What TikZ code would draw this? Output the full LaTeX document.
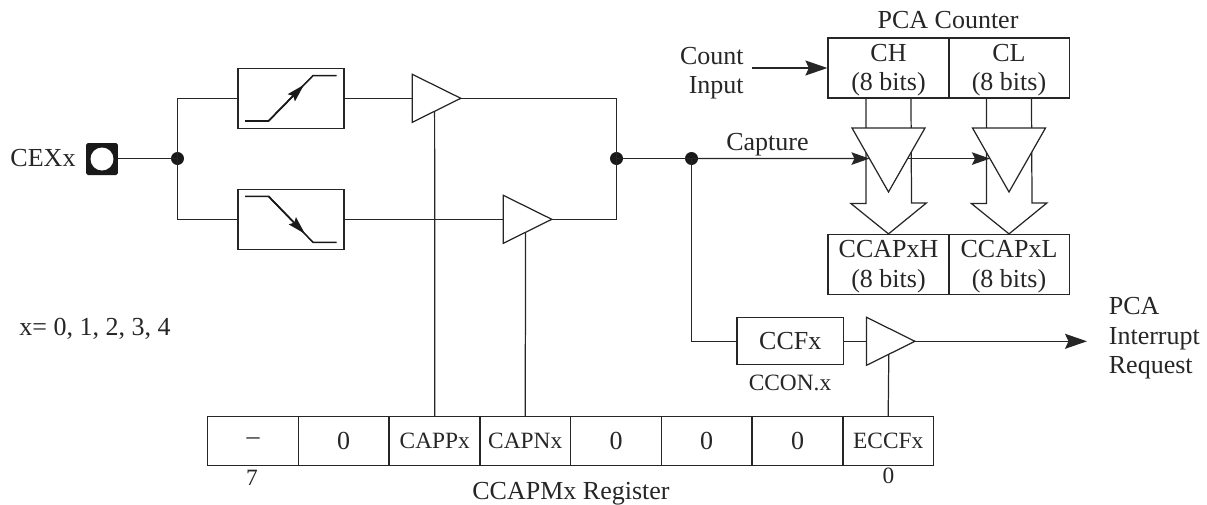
\documentclass[tikz,border=0pt]{standalone}
\usepackage{fontspec}
\setmainfont{Liberation Serif}
\usetikzlibrary{arrows.meta,calc,shapes.geometric}

\newcommand{\topgap}{\rule{0pt}{12.4pt}}

\tikzset{
  inkline/.style={draw=black!85,line width=0.7pt},
  bigtext/.style={text=black!85,font=\fontsize{14.8}{16.8}\selectfont,align=center,inner sep=0pt},
  smalltext/.style={text=black!85,font=\fontsize{13.3}{15}\selectfont,align=center,inner sep=0pt},
  edgebox/.style={inkline,minimum width=2.12cm,minimum height=1.2cm,inner sep=0pt},
  halfbox/.style={inkline,bigtext,minimum width=2.42cm,minimum height=1.2cm},
  regcell/.style={inkline,bigtext,minimum width=1.814cm,minimum height=0.98cm},
  dotnode/.style={circle,fill=black!90,minimum size=0.26cm,inner sep=0pt},
  ampl/.style={inkline,fill=white,isosceles triangle,isosceles triangle stretches,minimum width=0.96cm,minimum height=0.97cm,inner sep=0pt,outer sep=0pt,anchor=lower side},
  latch/.style={inkline,fill=white,isosceles triangle,isosceles triangle stretches,shape border rotate=-90,minimum width=1.46cm,minimum height=1.28cm,inner sep=0pt,outer sep=0pt,anchor=lower side},
  bigarrow/.style={inkline,-{Stealth[length=0.44cm,width=0.3cm,inset=0.07cm]}},
  midarrow/.style={inkline,-{Stealth[length=0.36cm,width=0.25cm,inset=0.06cm]}},
  ramp/.style={draw=black!90,line width=0.9pt},
}

\begin{document}
\begin{tikzpicture}[x=0.02cm,y=-0.02cm]
\useasboundingbox (0,0) rectangle (1207,504);
% input pin
\node[bigtext] (cexlabel) at (43,158) {CEXx};
\node[fill=black!90,rounded corners=1pt,minimum size=0.64cm,inner sep=0pt] (pin) at (102,159) {};
\node[circle,fill=white,minimum size=0.46cm,inner sep=0pt] (pinhole) at (102,159) {};
\node[dotnode] (j1) at (177.5,158.5) {};
\draw[inkline] (pin.east|-j1)--(j1.center);
% edge detectors
\node[edgebox] (rise) at (291,98.3) {};
\node[edgebox] (fall) at (291,219.3) {};
\draw[inkline] (rise.west)-|(j1.center)|-(fall.west);
\draw[ramp] ([shift={(-46,22.7)}]rise.center)--([shift={(-22.5,22.7)}]rise.center)--([shift={(22,-22.7)}]rise.center)--([shift={(45.7,-22.7)}]rise.center);
\draw[ramp,-{Stealth[length=0.36cm,width=0.2cm,inset=0.05cm]}] ([shift={(-22.5,22.7)}]rise.center)--([shift={(13,-13.5)}]rise.center);
\draw[ramp] ([shift={(-46,-23)}]fall.center)--([shift={(-22.5,-23)}]fall.center)--([shift={(22,23)}]fall.center)--([shift={(45.7,23)}]fall.center);
\draw[ramp,-{Stealth[length=0.36cm,width=0.2cm,inset=0.05cm]}] ([shift={(-22.5,-23)}]fall.center)--([shift={(14,14.5)}]fall.center);
% enable gates
\node[ampl] (capp) at (412.3,98.3) {};
\node[ampl] (capn) at (503.3,219.3) {};
\draw[inkline] (rise.east)--(capp.lower side);
\draw[inkline] (fall.east)--(capn.lower side);
\node[dotnode] (j2) at (616.5,158.5) {};
\node[dotnode] (j3) at (691.5,158.5) {};
\draw[inkline] (capp.apex)-|(j2.center)|-(capn.apex);
\draw[inkline] (j2.center)--(j3.center);
% PCA counter
\node[bigtext] (pcalabel) at (948,20) {PCA Counter};
\node[halfbox] (ch) at (888.5,68) {\topgap CH\\(8 bits)};
\node[halfbox] (cl) at (1009,68) {\topgap CL\\(8 bits)};
\node[bigtext,align=right,anchor=east] (countlabel) at (744,73) {Count\\Input};
\coordinate (countstart) at (752,68);
\draw[bigarrow] (countstart)--(ch.west);
% capture registers
\node[halfbox] (ccaph) at (888.5,264.5) {\topgap CCAPxH\\(8 bits)};
\node[halfbox] (ccapl) at (1009,264.5) {\topgap CCAPxL\\(8 bits)};
% buses
\draw[inkline] ([xshift=-0.45cm]ch.south)--++(0,105)--++(-15,0)--(ccaph.north)--([shift={(38,-31)}]ccaph.north)--++(-15,0)--([xshift=0.45cm]ch.south);
\draw[inkline] ([xshift=-0.45cm]cl.south)--++(0,105)--++(-15,0)--(ccapl.north)--([shift={(38,-31)}]ccapl.north)--++(-15,0)--([xshift=0.45cm]cl.south);
\node[latch] (latchh) at (888.5,128) {};
\node[latch] (latchl) at (1009,128) {};
\draw[midarrow] (j3.center)--($(latchh.right corner)!0.478!(latchh.apex)$);
\draw[midarrow] ($(latchh.left corner)!0.478!(latchh.apex)$)--($(latchl.right corner)!0.478!(latchl.apex)$);
\node[bigtext] (capturelabel) at (767.5,144.5) {Capture};
% interrupt path
\node[inkline,bigtext,minimum width=2.13cm,minimum height=0.94cm] (ccf) at (790.3,341.3) {CCFx};
\node[smalltext] (cconlabel) at (790,383) {CCON.x};
\node[ampl] (ecc) at (866.5,341.3) {};
\draw[inkline] (j3.center)|-(ccf.west);
\draw[inkline] (ccf.east)--(ecc.lower side);
\node[bigtext,align=left,anchor=west] (reqlabel) at (1108.5,338.5) {PCA\\Interrupt\\Request};
\coordinate (reqend) at (1087,341.3);
\draw[bigarrow] (ecc.apex)--(reqend);
\node[bigtext,anchor=west] (xlabel) at (19,329) {x= 0, 1, 2, 3, 4};
% mode register
\node[regcell] (r7) at (253,441) {\raisebox{-3pt}{--}};
\node[regcell] (r6) at (343.7,441) {0};
\node[regcell,smalltext] (r5) at (434.8,441) {CAPPx};
\node[regcell,smalltext] (r4) at (525.2,441) {CAPNx};
\node[regcell] (r3) at (616,441) {0};
\node[regcell] (r2) at (706.7,441) {0};
\node[regcell] (r1) at (797.7,441) {0};
\node[regcell,smalltext] (r0) at (888.2,441) {ECCFx};
\node[smalltext] (bit7) at (252,478) {7};
\node[smalltext] (bit0) at (888.5,476) {0};
\node[bigtext] (reglabel) at (571,494) {CCAPMx Register};
\draw[inkline] (r5.north)--($(capp.right corner)!0.46!(capp.apex)$);
\draw[inkline] (r4.north)--($(capn.right corner)!0.46!(capn.apex)$);
\draw[inkline] (r0.north)--($(ecc.right corner)!0.46!(ecc.apex)$);
\end{tikzpicture}
\end{document}
